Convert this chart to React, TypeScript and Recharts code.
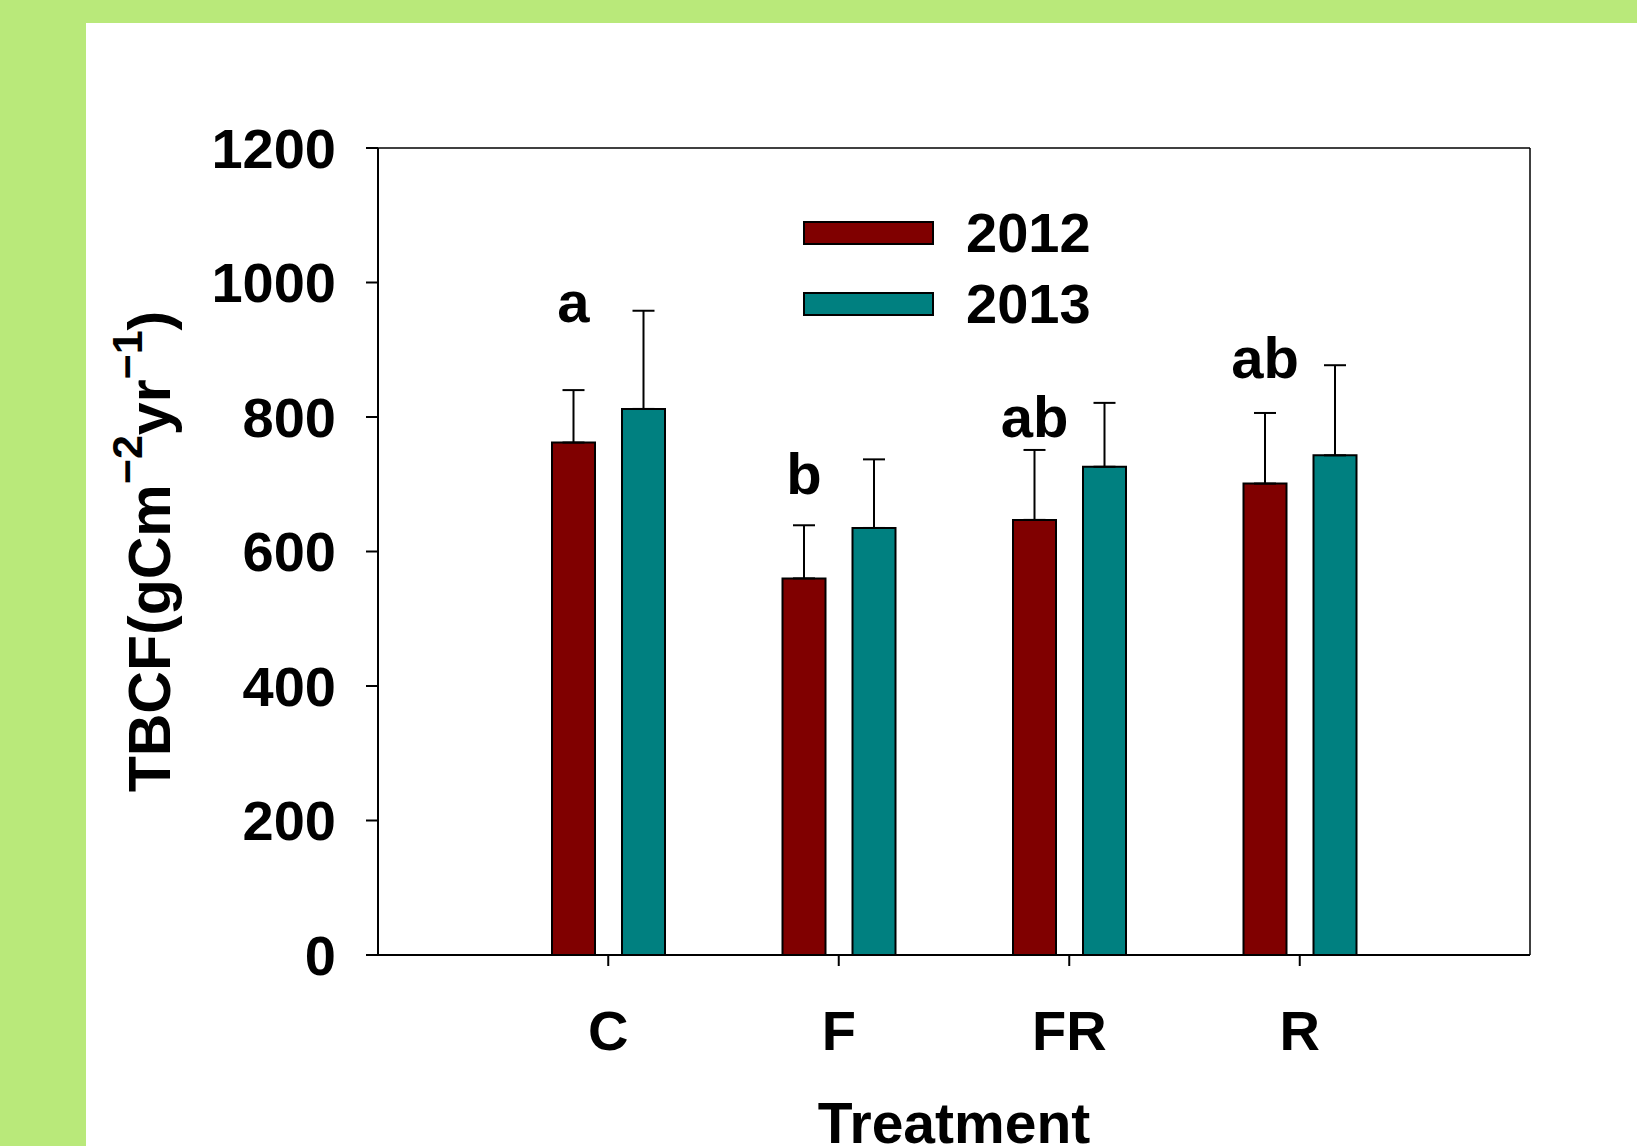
import { Bar, BarChart, CartesianGrid, ErrorBar, Label, LabelList, Legend, XAxis, YAxis } from "recharts";

const categories = ["C", "F", "FR", "R"];
const tbcf2012 = [762, 560, 647, 701];
const tbcf2013 = [812, 635, 726, 743];
const se2012 = [78, 79, 104, 105];
const se2013 = [146, 102, 95, 134];
const letters = ["a", "b", "ab", "ab"];
const letterLevels = [941, 686, 771, 858];
const yTicks = [0, 200, 400, 600, 800, 1000, 1200];

const chartData = categories.map((name, i) => ({
  name,
  y2012: tbcf2012[i],
  y2013: tbcf2013[i],
  err2012: [0, se2012[i]],
  err2013: [0, se2013[i]]
}));

const font = '"Liberation Sans", Arial, sans-serif';

// top and right border of the plot frame
function frameTop({ offset }: any) {
  return [offset.top];
}

function frameRight({ offset }: any) {
  return [offset.left + offset.width];
}

function LetterLabel(props: any) {
  const { x, y, width, height, index } = props;
  const pxPerUnit = height / tbcf2012[index];
  const baseline = y + height - letterLevels[index] * pxPerUnit;

  return (
    <text
      x={x + width / 2}
      y={baseline}
      textAnchor="middle"
      fontSize={58}
      fontWeight={700}
      fontFamily={font}
      fill="#000"
    >
      {letters[index]}
    </text>
  );
}

function YTitle(props: any) {
  const { viewBox } = props;
  const cx = 150;
  const cy = viewBox.y + viewBox.height / 2;

  return (
    <text
      x={cx}
      y={cy}
      transform={`rotate(-90, ${cx}, ${cy})`}
      textAnchor="middle"
      dominantBaseline="central"
      fontSize={59}
      fontWeight={700}
      fontFamily={font}
      fill="#000"
    >
      TBCF(gCm
      <tspan dy={-23} fontSize={43}>
        −2
      </tspan>
      <tspan dy={23}>yr</tspan>
      <tspan dy={-23} fontSize={43}>
        −1
      </tspan>
      <tspan dy={23}>)</tspan>
    </text>
  );
}

function XTitle(props: any) {
  const { viewBox } = props;

  return (
    <text
      x={viewBox.x + viewBox.width / 2}
      y={viewBox.y + 188}
      textAnchor="middle"
      fontSize={57}
      fontWeight={700}
      fontFamily={font}
      fill="#000"
    >
      Treatment
    </text>
  );
}

function YearLegend({ payload }: any) {
  return (
    <div>
      {(payload ?? []).map((entry: any) => (
        <div
          key={entry.value}
          style={{ display: "flex", alignItems: "center", height: 71 }}
        >
          <div
            style={{
              width: 127,
              height: 20,
              background: entry.color,
              border: "2px solid #000"
            }}
          />
          <span
            style={{
              marginLeft: 32,
              fontSize: 56,
              fontWeight: 700,
              fontFamily: font,
              color: "#000"
            }}
          >
            {entry.value}
          </span>
        </div>
      ))}
    </div>
  );
}

export default function App() {
  const tickStyle = { fontSize: 56, fontWeight: 700, fill: "#000", fontFamily: font };

  return (
    <div
      style={{
        position: "absolute",
        left: 0,
        top: 0,
        width: 1637,
        height: 1146,
        background: "#b9e97a",
        overflow: "hidden"
      }}
    >
      <div
        style={{
          position: "absolute",
          left: 86,
          top: 23,
          right: 0,
          bottom: 0,
          background: "#fff"
        }}
      />
      <div style={{ position: "absolute", left: 0, top: 0 }}>
        <BarChart
          width={1637}
          height={1146}
          data={chartData}
          margin={{ top: 148, right: 107, bottom: 0, left: 0 }}
          barGap={27}
        >
          <CartesianGrid
            stroke="#000"
            strokeWidth={1.5}
            horizontalCoordinatesGenerator={frameTop}
            verticalCoordinatesGenerator={frameRight}
          />
          <XAxis
            dataKey="name"
            interval={0}
            padding={{ left: 115, right: 115 }}
            height={191}
            tick={tickStyle}
            tickSize={11}
            tickMargin={44}
            axisLine={{ stroke: "#000", strokeWidth: 2 }}
            tickLine={{ stroke: "#000", strokeWidth: 2 }}
          >
            <Label content={XTitle} />
          </XAxis>
          <YAxis
            domain={[0, 1200]}
            ticks={yTicks}
            interval={0}
            width={378}
            tick={tickStyle}
            tickSize={12}
            tickMargin={30}
            axisLine={{ stroke: "#000", strokeWidth: 2 }}
            tickLine={{ stroke: "#000", strokeWidth: 2 }}
          >
            <Label content={YTitle} />
          </YAxis>
          <Legend
            layout="vertical"
            align="center"
            verticalAlign="middle"
            content={YearLegend}
            wrapperStyle={{ left: 803, top: 197, width: 320, height: 142 }}
          />
          <Bar
            dataKey="y2012"
            name="2012"
            fill="#800000"
            stroke="#000"
            strokeWidth={2}
            barSize={43}
            isAnimationActive={false}
          >
            <ErrorBar dataKey="err2012" direction="y" width={11} stroke="#000" strokeWidth={2} />
            <LabelList dataKey="y2012" content={LetterLabel} />
          </Bar>
          <Bar
            dataKey="y2013"
            name="2013"
            fill="#008080"
            stroke="#000"
            strokeWidth={2}
            barSize={43}
            isAnimationActive={false}
          >
            <ErrorBar dataKey="err2013" direction="y" width={11} stroke="#000" strokeWidth={2} />
          </Bar>
        </BarChart>
      </div>
    </div>
  );
}
